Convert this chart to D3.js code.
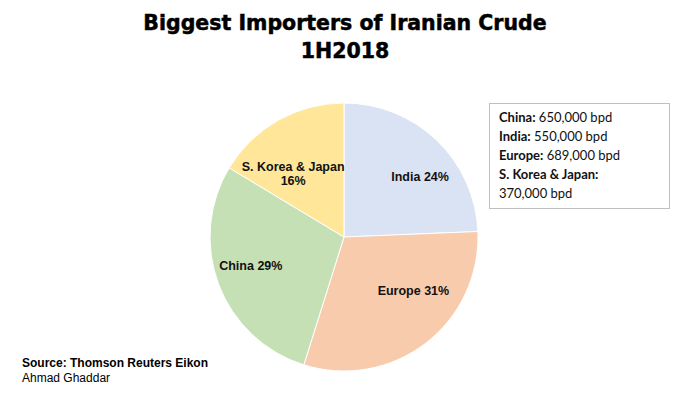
<!DOCTYPE html>
<html><head><meta charset="utf-8">
<script src="https://cdn.jsdelivr.net/npm/d3@7"></script>
<style>body{margin:0;background:#fff}svg{display:block}</style>
</head><body><svg id="c" width="690" height="394"></svg>
<script>
const categories = ["India", "Europe", "China", "S. Korea & Japan"];
const values = [550000, 689000, 650000, 370000];
const percentLabels = ["24%", "31%", "29%", "16%"];
const colors = ["#dae3f3", "#f8cbad", "#c5e0b4", "#ffe699"];
const boxLines = [
  ["China:", " 650,000 bpd"],
  ["India:", " 550,000 bpd"],
  ["Europe:", " 689,000 bpd"],
  ["S. Korea & Japan:", ""],
  ["", "370,000 bpd"]
];

const svg = d3.select("#c");
const cx = 344, cy = 237, R = 134;

[["Biggest Importers of Iranian Crude", 30], ["1H2018", 58]].forEach(([s, y]) => {
  svg.append("text").attr("x", 345).attr("y", y).attr("text-anchor", "middle")
    .attr("font-family", "DejaVu Sans").attr("font-weight", "bold").attr("font-size", 20.5)
    .attr("stroke", "#000").attr("stroke-width", 0.5).text(s);
});

const data = categories.map((c, i) => ({name: c, value: values[i], pct: percentLabels[i], color: colors[i]}));
const pie = d3.pie().sort(null).value(d => d.value);
const arcs = pie(data);
const arc = d3.arc().innerRadius(0).outerRadius(R);
const g = svg.append("g").attr("transform", `translate(${cx},${cy})`);
g.selectAll("path").data(arcs).join("path")
  .attr("d", arc).attr("fill", d => d.data.color)
  .attr("stroke", "#fff").attr("stroke-width", 1);

const labelArc = d3.arc().innerRadius(R * 0.68).outerRadius(R * 0.68);
const nudge = {"India": [13, 6], "Europe": [14, -18], "China": [-8, -3], "S. Korea & Japan": [-6, 19]};
arcs.forEach(a => {
  const [x, y] = labelArc.centroid(a);
  const n = nudge[a.data.name];
  const t = g.append("text").attr("text-anchor", "middle")
    .attr("font-family", "Liberation Sans, Arial").attr("font-weight", "bold").attr("font-size", 12.5)
    .attr("fill", "#111");
  if (a.data.name === "S. Korea & Japan") {
    t.append("tspan").attr("x", x + n[0]).attr("y", y + n[1] - 6).text(a.data.name);
    t.append("tspan").attr("x", x + n[0]).attr("y", y + n[1] + 8).text(a.data.pct);
  } else {
    t.attr("x", x + n[0]).attr("y", y + n[1] + 4).text(a.data.name + " " + a.data.pct);
  }
});

svg.append("rect").attr("x", 489.5).attr("y", 103.5).attr("width", 180).attr("height", 105)
  .attr("fill", "#fff").attr("stroke", "#bfbfbf").attr("stroke-width", 1);
boxLines.forEach((l, i) => {
  const t = svg.append("text").attr("x", 499).attr("y", 122 + i * 19)
    .attr("font-family", "Lato, Open Sans").attr("font-size", 13).attr("fill", "#111");
  if (l[0]) t.append("tspan").attr("font-weight", "bold").text(l[0]);
  if (l[1]) t.append("tspan").text(l[1]);
});

svg.append("text").attr("x", 22).attr("y", 367).attr("font-family", "Liberation Sans, Arial")
  .attr("font-weight", "bold").attr("font-size", 12).text("Source: Thomson Reuters Eikon");
svg.append("text").attr("x", 22).attr("y", 382).attr("font-family", "Liberation Sans, Arial")
  .attr("font-size", 12).text("Ahmad Ghaddar");
</script></body></html>
